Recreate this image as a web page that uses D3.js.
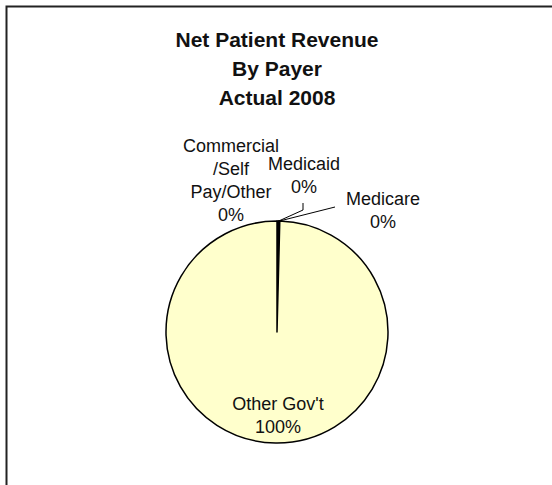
<!DOCTYPE html>
<html>
<head>
<meta charset="utf-8">
<script src="https://cdn.jsdelivr.net/npm/d3@7"></script>
<style>
  body { margin: 0; background: #fff; }
  text { font-family: Arial, "Liberation Sans", sans-serif; fill: #111; }
</style>
</head>
<body>
<div id="chart"></div>
<script>
// payer names and share of net patient revenue (%)
const payers = ["Commercial/Self Pay/Other", "Medicaid", "Medicare", "Other Gov't"];
const shares = [0.2, 0.1, 0.1, 99.6];
const labelLines = [["Commercial", "/Self", "Pay/Other"], ["Medicaid"], ["Medicare"], ["Other Gov't"]];
const titleLines = ["Net Patient Revenue", "By Payer", "Actual 2008"];

const width = 552;
const height = 485;
const cx = 277, cy = 332, radius = 111;

const svg = d3.select("#chart").append("svg")
    .attr("width", width).attr("height", height);

// chart border, runs off the right and bottom edge
svg.append("rect")
    .attr("x", 6.5).attr("y", 6.5)
    .attr("width", width + 20).attr("height", height + 20)
    .attr("fill", "none").attr("stroke", "#222").attr("stroke-width", 2);

svg.append("g").selectAll("text")
    .data(titleLines)
    .enter().append("text")
    .attr("x", cx)
    .attr("y", (d, i) => 47 + i * 29)
    .attr("text-anchor", "middle")
    .attr("font-weight", "bold")
    .attr("font-size", 21)
    .text(d => d);

const data = payers.map((p, i) => ({ payer: p, value: shares[i], lines: labelLines[i] }));

const pie = d3.pie().sort(null).value(d => d.value);
const arc = d3.arc().innerRadius(0).outerRadius(radius);
const arcs = pie(data);

const g = svg.append("g").attr("transform", `translate(${cx},${cy})`);

g.selectAll("path")
    .data(arcs)
    .enter().append("path")
    .attr("d", arc)
    .attr("fill", d => d.data.value < 1 ? "#000" : "#FFFFCC")
    .attr("stroke", "#000")
    .attr("stroke-width", 1.5)
    .attr("stroke-linejoin", "round");

// label spots (offset from pie centre) and leader line elbows
const labelPos = [
    { x: -46, y: -180, lead: null },
    { x: 27, y: -162, lead: [[26, -122], [26, -129]] },
    { x: 106, y: -127, lead: [[58, -125]] },
    { x: 1, y: 78, lead: null }
];

const fmt = v => Math.round(v) + "%";

arcs.forEach((a, i) => {
    const lines = a.data.lines.concat([fmt(a.data.value)]);
    const pos = labelPos[i];
    const t = g.append("text")
        .attr("text-anchor", "middle")
        .attr("font-size", 18);
    lines.forEach((ln, j) => {
        t.append("tspan").attr("x", pos.x).attr("y", pos.y + j * 23).text(ln);
    });
    if (pos.lead) {
        // leader starts at the slice's outer edge
        const mid = (a.startAngle + a.endAngle) / 2;
        const start = [Math.sin(mid) * radius, -Math.cos(mid) * radius];
        g.append("path")
            .attr("d", d3.line()([start].concat(pos.lead)))
            .attr("fill", "none")
            .attr("stroke", "#000")
            .attr("stroke-width", 1);
    }
});
</script>
</body>
</html>
